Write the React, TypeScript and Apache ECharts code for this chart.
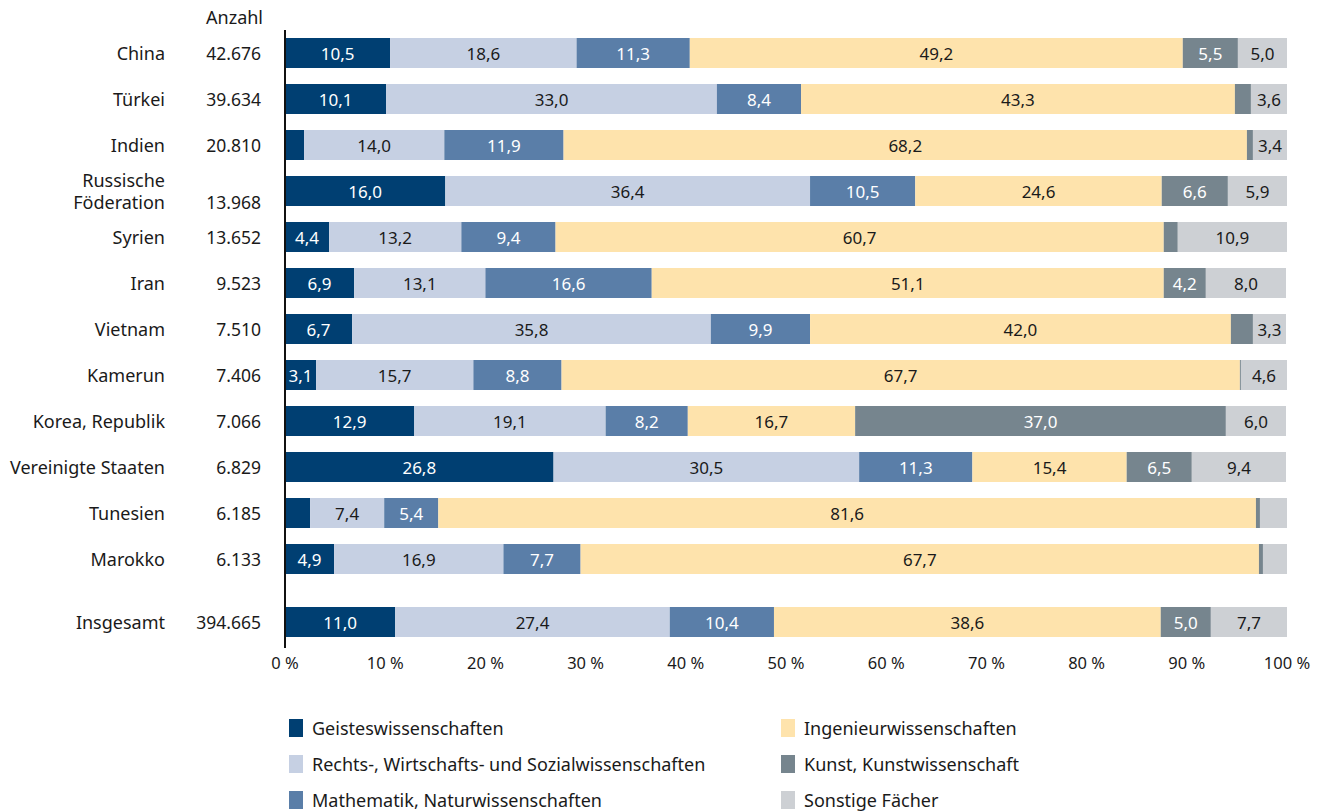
import React, { useEffect, useRef } from "react";
import * as echarts from "echarts";

const categories = [
  "China",
  "Türkei",
  "Indien",
  "Russische\nFöderation",
  "Syrien",
  "Iran",
  "Vietnam",
  "Kamerun",
  "Korea, Republik",
  "Vereinigte Staaten",
  "Tunesien",
  "Marokko",
];
const counts = [
  "42.676", "39.634", "20.810", "13.968", "13.652", "9.523",
  "7.510", "7.406", "7.066", "6.829", "6.185", "6.133",
];
const totalCategory = ["Insgesamt"];
const totalCount = ["394.665"];

const seriesNames = [
  "Geisteswissenschaften",
  "Rechts-, Wirtschafts- und Sozialwissenschaften",
  "Mathematik, Naturwissenschaften",
  "Ingenieurwissenschaften",
  "Kunst, Kunstwissenschaft",
  "Sonstige Fächer",
];

const geistes = [10.5, 10.1, 1.9, 16.0, 4.4, 6.9, 6.7, 3.1, 12.9, 26.8, 2.5, 4.9];
const rechts = [18.6, 33.0, 14.0, 36.4, 13.2, 13.1, 35.8, 15.7, 19.1, 30.5, 7.4, 16.9];
const mathe = [11.3, 8.4, 11.9, 10.5, 9.4, 16.6, 9.9, 8.8, 8.2, 11.3, 5.4, 7.7];
const ingenieur = [49.2, 43.3, 68.2, 24.6, 60.7, 51.1, 42.0, 67.7, 16.7, 15.4, 81.6, 67.7];
const kunst = [5.5, 1.6, 0.6, 6.6, 1.4, 4.2, 2.2, 0.1, 37.0, 6.5, 0.4, 0.4];
const sonstige = [5.0, 3.6, 3.4, 5.9, 10.9, 8.0, 3.3, 4.6, 6.0, 9.4, 2.7, 2.4];

const totalValues = [11.0, 27.4, 10.4, 38.6, 5.0, 7.7];

const xTicks = [0, 10, 20, 30, 40, 50, 60, 70, 80, 90, 100];

const colors = ["#003f72", "#c6d0e3", "#5a7ea8", "#fee3ac", "#76858e", "#cdd0d4"];
const labelColors = ["#ffffff", "#1a1a1a", "#ffffff", "#1a1a1a", "#ffffff", "#1a1a1a"];

const FONT = "'Noto Sans', sans-serif";

export default function App() {
  const ref = useRef<HTMLDivElement>(null);

  useEffect(() => {
    if (!ref.current) return;
    const chart = echarts.init(ref.current, undefined, { renderer: "svg" });

    const gridLeft = 285;
    const gridRight = 34;
    const g1Top = 30;
    const g1Height = 552;
    const g2Top = 596;
    const g2Height = 52;

    const countrySeriesData = [geistes, rechts, mathe, ingenieur, kunst, sonstige];

    const labelFmt = (p: any) =>
      p.value >= 3 ? Number(p.value).toFixed(1).replace(".", ",") : "";

    const rich = {
      n: { width: 150, align: "right", fontSize: 18, fontFamily: FONT, color: "#1a1a1a", lineHeight: 22 },
      c: { width: 96, align: "right", fontSize: 17.5, fontFamily: FONT, color: "#1a1a1a", lineHeight: 22 },
    };

    const makeYLabel = (cnts: string[]) => (value: string, index: number) => {
      const lines = value.split("\n");
      const out: string[] = [];
      lines.forEach((l, i) => {
        if (i === lines.length - 1) out.push(`{n|${l}}{c|${cnts[index]}}`);
        else out.push(`{n|${l}}{c| }`);
      });
      return out.join("\n");
    };

    const series: any[] = [];
    seriesNames.forEach((name, i) => {
      const common = {
        name,
        type: "bar",
        barWidth: 30,
        itemStyle: { color: colors[i] },
        label: {
          show: true,
          position: "inside",
          formatter: labelFmt,
          color: labelColors[i],
          fontSize: 17,
          fontFamily: FONT,
        },
        emphasis: { disabled: true },
      };
      series.push({ ...common, stack: "countries", xAxisIndex: 0, yAxisIndex: 0, data: countrySeriesData[i] });
      series.push({ ...common, stack: "total", xAxisIndex: 1, yAxisIndex: 1, data: [totalValues[i]] });
    });

    const legendCommon = {
      orient: "vertical",
      icon: "rect",
      itemWidth: 14,
      itemHeight: 18,
      itemGap: 18,
      padding: 0,
      height: 100,
      selectedMode: false,
      textStyle: { fontSize: 18, fontFamily: FONT, color: "#1a1a1a", padding: [0, 0, 0, 4] },
    };

    chart.setOption({
      animation: false,
      textStyle: { fontFamily: FONT },
      title: {
        text: "Anzahl",
        right: 1321 - 263,
        top: 8,
        padding: 0,
        textStyle: { fontSize: 18, fontWeight: "normal", fontFamily: FONT, color: "#1a1a1a" },
      },
      legend: [
        { ...legendCommon, left: 289, top: 719, data: seriesNames.slice(0, 3) },
        { ...legendCommon, left: 781, top: 719, data: seriesNames.slice(3) },
      ],
      grid: [
        { left: gridLeft, right: gridRight, top: g1Top, height: g1Height },
        { left: gridLeft, right: gridRight, top: g2Top, height: g2Height },
      ],
      xAxis: [
        {
          gridIndex: 0,
          type: "value",
          min: xTicks[0],
          max: xTicks[xTicks.length - 1],
          interval: 10,
          show: false,
        },
        {
          gridIndex: 1,
          type: "value",
          min: xTicks[0],
          max: xTicks[xTicks.length - 1],
          interval: 10,
          axisLine: { show: false },
          axisTick: { show: false },
          splitLine: { show: false },
          axisLabel: {
            formatter: (v: number) => `${v} %`,
            fontSize: 16.5,
            fontFamily: FONT,
            color: "#1a1a1a",
            margin: 6,
          },
        },
      ],
      yAxis: [
        {
          gridIndex: 0,
          type: "category",
          inverse: true,
          data: categories,
          axisLine: { show: false },
          axisTick: { show: false },
          axisLabel: { margin: 24, formatter: makeYLabel(counts), rich },
        },
        {
          gridIndex: 1,
          type: "category",
          inverse: true,
          data: totalCategory,
          axisLine: { show: false },
          axisTick: { show: false },
          axisLabel: { margin: 24, formatter: makeYLabel(totalCount), rich },
        },
      ],
      graphic: [
        {
          type: "line",
          shape: { x1: gridLeft, y1: g1Top, x2: gridLeft, y2: g2Top + g2Height },
          style: { stroke: "#111111", lineWidth: 2 },
          z: 100,
        },
      ],
      series,
    });

    return () => chart.dispose();
  }, []);

  return (
    <div
      ref={ref}
      style={{ position: "fixed", left: 0, top: 0, width: 1321, height: 812, background: "#fff" }}
    />
  );
}
